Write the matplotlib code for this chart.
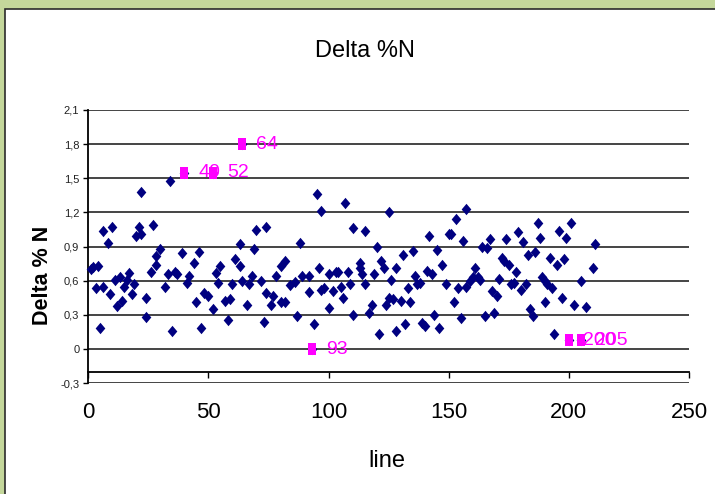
import matplotlib
matplotlib.use("Agg")
import matplotlib.pyplot as plt
from matplotlib.patches import Rectangle
from matplotlib import font_manager

# Line number and Delta %N for every sample
line = [1, 2, 3, 4, 5, 6, 6, 8, 9, 10, 11, 12, 13, 14, 15, 16, 17, 18, 19,
        20, 21, 22, 22, 24, 24, 26, 27, 28, 28, 30, 32, 33, 34, 35, 36, 37,
        39, 40, 41, 42, 44, 45, 46, 47, 48, 50, 52, 52, 53, 54, 55, 57, 58,
        59, 60, 61, 63, 63, 64, 64, 66, 67, 68, 69, 70, 72, 73, 74, 74, 76,
        77, 78, 80, 80, 82, 82, 84, 86, 87, 88, 89, 92, 92, 93, 94, 95, 96,
        97, 97, 98, 100, 100, 102, 103, 104, 105, 106, 107, 108, 109, 110,
        110, 113, 113, 114, 115, 115, 117, 118, 119, 120, 121, 122, 123, 124,
        125, 125, 126, 127, 128, 128, 130, 131, 132, 133, 134, 135, 136, 137,
        138, 139, 140, 141, 142, 143, 144, 145, 146, 147, 149, 150, 151, 152,
        153, 154, 155, 156, 157, 157, 159, 160, 161, 162, 163, 164, 165, 166,
        167, 168, 169, 170, 171, 172, 173, 174, 175, 176, 177, 178, 179, 180,
        181, 182, 183, 184, 185, 186, 187, 188, 189, 190, 190, 191, 192, 193,
        194, 195, 196, 197, 198, 199, 200, 201, 202, 205, 205, 207, 210, 211]
delta_n = [0.70, 0.72, 0.54, 0.73, 0.19, 1.04, 0.55, 0.93, 0.48, 1.07, 0.61,
           0.38, 0.63, 0.42, 0.55, 0.61, 0.67, 0.48, 0.57, 0.99, 1.07, 1.38,
           1.01, 0.45, 0.28, 0.68, 1.09, 0.82, 0.74, 0.88, 0.55, 0.66, 1.48,
           0.16, 0.68, 0.66, 0.84, 1.55, 0.58, 0.64, 0.76, 0.41, 0.85, 0.19,
           0.49, 0.47, 0.35, 1.55, 0.67, 0.58, 0.73, 0.42, 0.26, 0.44, 0.57,
           0.79, 0.73, 0.92, 1.80, 0.60, 0.39, 0.57, 0.64, 0.88, 1.05, 0.60,
           0.24, 1.07, 0.49, 0.39, 0.47, 0.64, 0.41, 0.73, 0.77, 0.41, 0.56,
           0.59, 0.29, 0.93, 0.64, 0.64, 0.50, 0.00, 0.22, 1.36, 0.71, 0.52,
           1.21, 0.54, 0.66, 0.36, 0.51, 0.68, 0.68, 0.55, 0.45, 1.28, 0.68,
           0.57, 1.06, 0.30, 0.76, 0.71, 0.66, 1.04, 0.57, 0.32, 0.39, 0.66,
           0.90, 0.13, 0.77, 0.71, 0.39, 1.20, 0.45, 0.61, 0.44, 0.16, 0.71,
           0.42, 0.83, 0.22, 0.54, 0.41, 0.86, 0.64, 0.57, 0.58, 0.23, 0.20,
           0.69, 0.99, 0.66, 0.30, 0.87, 0.19, 0.74, 0.57, 1.01, 1.01, 0.41,
           1.14, 0.54, 0.27, 0.95, 1.23, 0.55, 0.60, 0.63, 0.71, 0.63, 0.61,
           0.90, 0.29, 0.89, 0.97, 0.51, 0.32, 0.47, 0.62, 0.80, 0.77, 0.97,
           0.74, 0.57, 0.58, 0.68, 1.03, 0.52, 0.94, 0.57, 0.83, 0.35, 0.29,
           0.85, 1.11, 0.98, 0.63, 0.60, 0.41, 0.57, 0.80, 0.54, 0.13, 0.74,
           1.04, 0.45, 0.79, 0.98, 0.08, 1.11, 0.39, 0.60, 0.08, 0.37, 0.71,
           0.92]

# Flagged lines shown with their line number
flag_line = [40, 52, 64, 93, 200, 205]
flag_delta = [1.55, 1.55, 1.80, 0.00, 0.08, 0.08]

y_ticks = [-0.3, 0.0, 0.3, 0.6, 0.9, 1.2, 1.5, 1.8, 2.1]
y_tick_labels = ["-0,3", "0", "0,3", "0,6", "0,9", "1,2", "1,5", "1,8", "2,1"]
x_ticks = [0, 50, 100, 150, 200, 250]


def pick_family(*names):
    for name in names:
        try:
            font_manager.findfont(font_manager.FontProperties(family=name),
                                  fallback_to_default=False)
            return [name, "Liberation Sans", "DejaVu Sans"]
        except Exception:
            continue
    return ["Liberation Sans", "DejaVu Sans"]


NARROW = pick_family("Liberation Sans Narrow", "Arial Narrow")
is_narrow = NARROW[0] != "Liberation Sans"
REGULAR = ["Liberation Sans", "DejaVu Sans"]

W, H = 715, 494
fig = plt.figure(figsize=(W / 100, H / 100), dpi=100)
fig.patch.set_facecolor("#c4d79b")

# white chart area with its frame
frame = Rectangle((5 / W, -0.1), 1.2, (H - 9) / H + 0.1,
                  transform=fig.transFigure, facecolor="white",
                  edgecolor="#2b2b2b", linewidth=1.2, zorder=-5)
fig.add_artist(frame)

left, right = 88.3 / W, 689 / W
bottom, top = (H - 383.3) / H, (H - 110) / H
ax = fig.add_axes([left, bottom, right - left, top - bottom])
ax.set_facecolor("none")
ax.set_xlim(0, 250)
ax.set_ylim(-0.3, 2.1)

for yv in y_ticks:
    ax.axhline(yv, color="#444444", lw=1.4, zorder=1)

for side in ("top", "right"):
    ax.spines[side].set_visible(False)
ax.spines["left"].set_color("black")
ax.spines["left"].set_linewidth(1.3)
ax.spines["bottom"].set_position(("data", -0.2))
ax.spines["bottom"].set_color("black")
ax.spines["bottom"].set_linewidth(1.3)

ax.set_yticks(y_ticks)
ax.set_yticklabels(y_tick_labels, fontfamily=NARROW,
                   fontsize=9 if is_narrow else 8, color="#222222")
ax.tick_params(axis="y", direction="out", length=3.5, width=1.0, pad=3)
ax.set_xticks(x_ticks)
ax.set_xticklabels([str(v) for v in x_ticks], fontfamily=NARROW,
                   fontsize=18 if is_narrow else 16, color="black")
ax.tick_params(axis="x", direction="out", length=4.5, width=1.0, pad=17)

diamond = [(0, 1), (0.85, 0), (0, -1), (-0.85, 0), (0, 1)]
box = [(-0.7, -1), (0.7, -1), (0.7, 1), (-0.7, 1), (-0.7, -1)]

ax.plot(line, delta_n, linestyle="none", marker=diamond, markersize=8.2,
        color="#000080", markeredgewidth=0, zorder=3, clip_on=False)
ax.plot(flag_line, flag_delta, linestyle="none", marker=box, markersize=8.0,
        color="#ff00ff", markeredgewidth=0, zorder=4, clip_on=False)
for xv, yv in zip(flag_line, flag_delta):
    ax.annotate(str(xv), (xv, yv), xytext=(10, 0), textcoords="offset points",
                ha="left", va="center", fontfamily=NARROW,
                fontsize=14, color="#ff00ff", zorder=5)

fig.text(365 / W, (H - 57) / H, "Delta %N", ha="center", va="baseline",
         fontfamily=REGULAR, fontsize=17, color="black")
fig.text(43 / W, (H - 275) / H, "Delta % N", ha="center", va="center",
         rotation=90, fontfamily=NARROW, fontsize=18 if is_narrow else 15.5,
         fontweight="bold", color="black")
fig.text(387 / W, (H - 467) / H, "line", ha="center", va="baseline",
         fontfamily=NARROW, fontsize=19 if is_narrow else 17, color="black")

fig.savefig("out.png", dpi=100, facecolor=fig.get_facecolor())
